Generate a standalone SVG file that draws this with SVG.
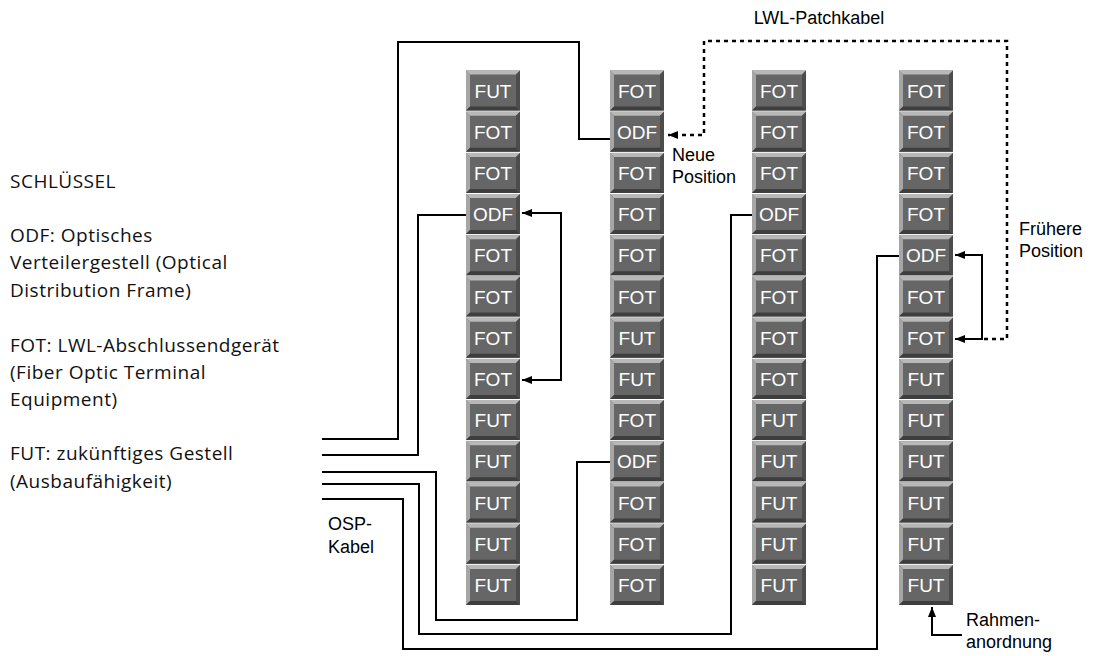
<svg xmlns="http://www.w3.org/2000/svg" width="1097" height="656" viewBox="0 0 1097 656">
<style>
.lbl{font-family:"Liberation Sans",Arial,sans-serif;font-size:19px;fill:#fff;text-anchor:middle}
.t{font-family:"Liberation Sans",Arial,sans-serif;font-size:18px;fill:#000}
.key{font-family:"Open Sans","Noto Sans",sans-serif;font-size:19px;letter-spacing:0.5px;fill:#111}
.w{fill:none;stroke:#000;stroke-width:2}
.dot{fill:none;stroke:#000;stroke-width:2.5;stroke-dasharray:4 4}
</style>
<defs>
<g id="box">
<rect x="0" y="0" width="54" height="40" fill="#666"/>
<polygon points="0,0 54,0 50,4 4,4" fill="#b8b8b8"/>
<polygon points="0,0 4,4 4,36 0,40" fill="#a6a6a6"/>
<polygon points="54,0 54,40 50,36 50,4" fill="#4c4c4c"/>
<polygon points="0,40 54,40 50,36 4,36" fill="#3e3e3e"/>
</g>
<marker id="ah" viewBox="0 0 10 8" refX="10" refY="4" markerWidth="11" markerHeight="8" markerUnits="userSpaceOnUse" orient="auto-start-reverse">
<path d="M0,0 L10,4 L0,8 Z" fill="#000"/>
</marker>
</defs>
<rect width="1097" height="656" fill="#fff"/>

<g id="legend">
<text class="key" x="10" y="188">SCHLÜSSEL</text>
<text class="key" x="10" y="242">ODF: Optisches</text>
<text class="key" x="10" y="269">Verteilergestell (Optical</text>
<text class="key" x="10" y="297">Distribution Frame)</text>
<text class="key" x="10" y="352">FOT: LWL-Abschlussendgerät</text>
<text class="key" x="10" y="379">(Fiber Optic Terminal</text>
<text class="key" x="10" y="406">Equipment)</text>
<text class="key" x="10" y="460">FUT: zukünftiges Gestell</text>
<text class="key" x="10" y="488">(Ausbaufähigkeit)</text>
</g>

<g id="connectors">
<path class="w" d="M322,439 H398 V42 H579 V139 H610"/>
<path class="w" d="M322,455 H418 V215 H466"/>
<path class="w" d="M322,472 H436 V620 H577 V462 H610"/>
<path class="w" d="M322,484 H419 V634 H731 V215 H752"/>
<path class="w" d="M322,499 H403 V649 H877 V256 H899"/>
<path class="w" d="M522,213 H561 V380 H522" marker-start="url(#ah)" marker-end="url(#ah)"/>
<path class="w" d="M955,255 H982 V339 H955" marker-start="url(#ah)" marker-end="url(#ah)"/>
<path class="dot" d="M984,339 H1007 V41 H704 V135 H668" marker-end="url(#ah)"/>
<path class="w" d="M962,635 H932 V607" marker-end="url(#ah)"/>
</g>

<g id="labels">
<text class="t" x="819" y="24" text-anchor="middle">LWL-Patchkabel</text>
<text class="t" x="672" y="161">Neue</text>
<text class="t" x="672" y="183">Position</text>
<text class="t" x="1019" y="235">Frühere</text>
<text class="t" x="1019" y="257">Position</text>
<text class="t" x="328" y="530">OSP-</text>
<text class="t" x="328" y="553">Kabel</text>
<text class="t" x="966" y="626">Rahmen-</text>
<text class="t" x="966" y="648">anordnung</text>
</g>

<g id="rack1">
<g id="r1n0"><use href="#box" x="466" y="70.5"/><text class="lbl" x="493" y="97.5">FUT</text></g>
<g id="r1n1"><use href="#box" x="466" y="111.7"/><text class="lbl" x="493" y="138.7">FOT</text></g>
<g id="r1n2"><use href="#box" x="466" y="152.9"/><text class="lbl" x="493" y="179.9">FOT</text></g>
<g id="r1n3"><use href="#box" x="466" y="194.1"/><text class="lbl" x="493" y="221.1">ODF</text></g>
<g id="r1n4"><use href="#box" x="466" y="235.3"/><text class="lbl" x="493" y="262.3">FOT</text></g>
<g id="r1n5"><use href="#box" x="466" y="276.5"/><text class="lbl" x="493" y="303.5">FOT</text></g>
<g id="r1n6"><use href="#box" x="466" y="317.7"/><text class="lbl" x="493" y="344.7">FOT</text></g>
<g id="r1n7"><use href="#box" x="466" y="358.9"/><text class="lbl" x="493" y="385.9">FOT</text></g>
<g id="r1n8"><use href="#box" x="466" y="400.1"/><text class="lbl" x="493" y="427.1">FUT</text></g>
<g id="r1n9"><use href="#box" x="466" y="441.3"/><text class="lbl" x="493" y="468.3">FUT</text></g>
<g id="r1n10"><use href="#box" x="466" y="482.5"/><text class="lbl" x="493" y="509.5">FUT</text></g>
<g id="r1n11"><use href="#box" x="466" y="523.7"/><text class="lbl" x="493" y="550.7">FUT</text></g>
<g id="r1n12"><use href="#box" x="466" y="564.9"/><text class="lbl" x="493" y="591.9">FUT</text></g>
</g>

<g id="rack2">
<g id="r2n0"><use href="#box" x="610" y="70.5"/><text class="lbl" x="637" y="97.5">FOT</text></g>
<g id="r2n1"><use href="#box" x="610" y="111.7"/><text class="lbl" x="637" y="138.7">ODF</text></g>
<g id="r2n2"><use href="#box" x="610" y="152.9"/><text class="lbl" x="637" y="179.9">FOT</text></g>
<g id="r2n3"><use href="#box" x="610" y="194.1"/><text class="lbl" x="637" y="221.1">FOT</text></g>
<g id="r2n4"><use href="#box" x="610" y="235.3"/><text class="lbl" x="637" y="262.3">FOT</text></g>
<g id="r2n5"><use href="#box" x="610" y="276.5"/><text class="lbl" x="637" y="303.5">FOT</text></g>
<g id="r2n6"><use href="#box" x="610" y="317.7"/><text class="lbl" x="637" y="344.7">FUT</text></g>
<g id="r2n7"><use href="#box" x="610" y="358.9"/><text class="lbl" x="637" y="385.9">FUT</text></g>
<g id="r2n8"><use href="#box" x="610" y="400.1"/><text class="lbl" x="637" y="427.1">FOT</text></g>
<g id="r2n9"><use href="#box" x="610" y="441.3"/><text class="lbl" x="637" y="468.3">ODF</text></g>
<g id="r2n10"><use href="#box" x="610" y="482.5"/><text class="lbl" x="637" y="509.5">FOT</text></g>
<g id="r2n11"><use href="#box" x="610" y="523.7"/><text class="lbl" x="637" y="550.7">FOT</text></g>
<g id="r2n12"><use href="#box" x="610" y="564.9"/><text class="lbl" x="637" y="591.9">FOT</text></g>
</g>

<g id="rack3">
<g id="r3n0"><use href="#box" x="752" y="70.5"/><text class="lbl" x="779" y="97.5">FOT</text></g>
<g id="r3n1"><use href="#box" x="752" y="111.7"/><text class="lbl" x="779" y="138.7">FOT</text></g>
<g id="r3n2"><use href="#box" x="752" y="152.9"/><text class="lbl" x="779" y="179.9">FOT</text></g>
<g id="r3n3"><use href="#box" x="752" y="194.1"/><text class="lbl" x="779" y="221.1">ODF</text></g>
<g id="r3n4"><use href="#box" x="752" y="235.3"/><text class="lbl" x="779" y="262.3">FOT</text></g>
<g id="r3n5"><use href="#box" x="752" y="276.5"/><text class="lbl" x="779" y="303.5">FOT</text></g>
<g id="r3n6"><use href="#box" x="752" y="317.7"/><text class="lbl" x="779" y="344.7">FOT</text></g>
<g id="r3n7"><use href="#box" x="752" y="358.9"/><text class="lbl" x="779" y="385.9">FOT</text></g>
<g id="r3n8"><use href="#box" x="752" y="400.1"/><text class="lbl" x="779" y="427.1">FUT</text></g>
<g id="r3n9"><use href="#box" x="752" y="441.3"/><text class="lbl" x="779" y="468.3">FUT</text></g>
<g id="r3n10"><use href="#box" x="752" y="482.5"/><text class="lbl" x="779" y="509.5">FUT</text></g>
<g id="r3n11"><use href="#box" x="752" y="523.7"/><text class="lbl" x="779" y="550.7">FUT</text></g>
<g id="r3n12"><use href="#box" x="752" y="564.9"/><text class="lbl" x="779" y="591.9">FUT</text></g>
</g>

<g id="rack4">
<g id="r4n0"><use href="#box" x="899" y="70.5"/><text class="lbl" x="926" y="97.5">FOT</text></g>
<g id="r4n1"><use href="#box" x="899" y="111.7"/><text class="lbl" x="926" y="138.7">FOT</text></g>
<g id="r4n2"><use href="#box" x="899" y="152.9"/><text class="lbl" x="926" y="179.9">FOT</text></g>
<g id="r4n3"><use href="#box" x="899" y="194.1"/><text class="lbl" x="926" y="221.1">FOT</text></g>
<g id="r4n4"><use href="#box" x="899" y="235.3"/><text class="lbl" x="926" y="262.3">ODF</text></g>
<g id="r4n5"><use href="#box" x="899" y="276.5"/><text class="lbl" x="926" y="303.5">FOT</text></g>
<g id="r4n6"><use href="#box" x="899" y="317.7"/><text class="lbl" x="926" y="344.7">FOT</text></g>
<g id="r4n7"><use href="#box" x="899" y="358.9"/><text class="lbl" x="926" y="385.9">FUT</text></g>
<g id="r4n8"><use href="#box" x="899" y="400.1"/><text class="lbl" x="926" y="427.1">FUT</text></g>
<g id="r4n9"><use href="#box" x="899" y="441.3"/><text class="lbl" x="926" y="468.3">FUT</text></g>
<g id="r4n10"><use href="#box" x="899" y="482.5"/><text class="lbl" x="926" y="509.5">FUT</text></g>
<g id="r4n11"><use href="#box" x="899" y="523.7"/><text class="lbl" x="926" y="550.7">FUT</text></g>
<g id="r4n12"><use href="#box" x="899" y="564.9"/><text class="lbl" x="926" y="591.9">FUT</text></g>
</g>
</svg>
